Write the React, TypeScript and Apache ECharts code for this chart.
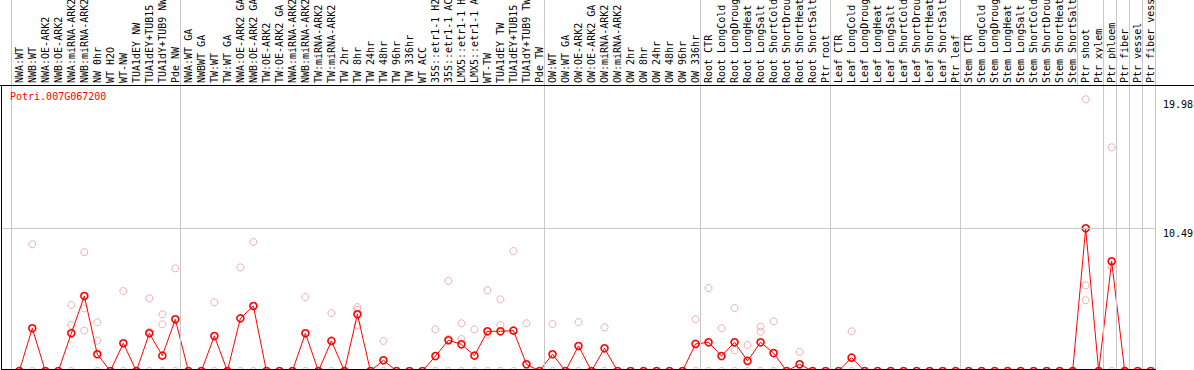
import React, { useEffect, useRef } from 'react';
import * as echarts from 'echarts';

const geneId = 'Potri.007G067200';

const categories = [
  'NWA:WT', 'NWB:WT', 'NWA:OE-ARK2', 'NWB:OE-ARK2', 'NWA:miRNA-ARK2', 'NWB:miRNA-ARK2',
  'NW 0hr', 'WT H2O', 'WT-NW', 'TUA1dEY NW', 'TUA1dEY+TUB15 NW', 'TUA1dY+TUB9 NW', 'Pde NW',
  'NWA:WT GA', 'NWBWT GA', 'TW:WT', 'TW:WT GA', 'NWA:OE-ARK2 GA', 'NWB:OE-ARK2 GA',
  'TW:OE-ARK2', 'TW:OE-ARK2 GA', 'NWA:miRNA-ARK2', 'NWB:miRNA-ARK2', 'TW:miRNA-ARK2', 'TW:miRNA-ARK2',
  'TW 2hr', 'TW 8hr', 'TW 24hr', 'TW 48hr', 'TW 96hr', 'TW 336hr', 'WT ACC',
  '35S::etr1-1 H2O', '35S::etr1-1 ACC', 'LMX5::etr1-1 H2O', 'LMX5::etr1-1 ACC',
  'WT-TW', 'TUA1dEY TW', 'TUA1dEY+TUB15 TW', 'TUA1dY+TUB9 TW', 'Pde TW',
  'OW:WT', 'OW:WT GA', 'OW:OE-ARK2', 'OW:OE-ARK2 GA', 'OW:miRNA-ARK2', 'OW:miRNA-ARK2',
  'OW 2hr', 'OW 8hr', 'OW 24hr', 'OW 48hr', 'OW 96hr', 'OW 336hr',
  'Root CTR', 'Root LongCold', 'Root LongDrought', 'Root LongHeat', 'Root LongSalt',
  'Root ShortCold', 'Root ShortDrought', 'Root ShortHeat', 'Root ShortSalt', 'Ptr root',
  'Leaf CTR', 'Leaf LongCold', 'Leaf LongDrought', 'Leaf LongHeat', 'Leaf LongSalt',
  'Leaf ShortCold', 'Leaf ShortDrought', 'Leaf ShortHeat', 'Leaf ShortSalt', 'Ptr leaf',
  'Stem CTR', 'Stem LongCold', 'Stem LongDrought', 'Stem LongHeat', 'Stem LongSalt',
  'Stem ShortCold', 'Stem ShortDrought', 'Stem ShortHeat', 'Stem ShortSalt',
  'Ptr shoot', 'Ptr xylem', 'Ptr phloem', 'Ptr fiber', 'Ptr vessel', 'Ptr fiber vessel',
];

const means = [
  0, 3.14, 0, 0, 2.77, 5.51, 1.23, 0, 2.04, 0, 2.77, 1.13, 3.8,
  0, 0, 2.57, 0, 3.87, 4.78, 0, 0, 0, 2.77, 0, 2.21,
  0, 4.17, 0, 0.79, 0, 0, 0, 1.1, 2.26, 1.96, 1.13, 2.92, 2.92, 2.97, 0.49, 0,
  1.23, 0, 1.84, 0, 1.67, 0, 0, 0, 0, 0, 0, 1.99,
  2.11, 1.1, 2.11, 0.74, 2.11, 1.32, 0, 0.49, 0, 0,
  0, 0.98, 0, 0, 0, 0, 0, 0, 0, 0,
  0, 0, 0, 0, 0, 0, 0, 0, 0,
  10.49, 0, 8.07, 0, 0, 0,
];

const replicates = [
  [], [9.32, 0], [], [], [4.85, 3.38, 0], [8.73, 4.61, 2.97], [3.58, 2.23, 0], [], [5.88, 0], [],
  [5.34, 2.89, 0], [4.17, 3.43, 0], [7.55, 0],
  [], [], [5.05, 0], [], [7.62, 0], [9.49, 0], [], [], [], [5.44, 0], [], [4.26, 0],
  [], [4.7, 4.5, 3.38], [], [2.21, 0], [], [], [], [3.06, 0], [6.62, 2.35, 0], [3.51, 2.35, 0],
  [3.06, 0], [5.93, 2.65, 0], [5.27, 3.38, 0], [8.82, 0], [3.51, 0], [],
  [3.46, 0], [], [3.6, 0], [], [3.21, 0], [], [], [], [], [], [], [3.8, 0],
  [6.1, 0], [3.14, 0], [4.63, 1.52, 0], [1.91, 0], [3.26, 2.89, 0], [3.65, 0], [], [1.4, 0], [], [],
  [], [2.92, 0], [], [], [], [], [], [], [], [],
  [], [], [], [], [], [], [], [], [],
  [19.98, 6.3, 5.2], [], [16.45, 7.67, 0], [], [], [],
];

const yLabelValues = [10.49, 19.98];
const yZeroLabel = [0];
const gridLineValues = [10.49];
// group boundaries (index of first category in each group); full-height separators
const groupStarts = [0, 13, 41, 53, 63, 73, 84, 85, 86, 87, 88];
// separators drawn only across the label band
const labelOnlyStarts = [82];

export default function App() {
  const ref = useRef<HTMLDivElement>(null);

  useEffect(() => {
    const chart = echarts.init(ref.current as HTMLDivElement, null, { renderer: 'svg' });
    const font = "'DejaVu Sans Mono', 'Liberation Mono', monospace";
    const meanData = means.map((v, i) => [i, v]);
    const repData = replicates.flatMap((arr, i) => arr.map((v) => [i, v]));
    const grayLine = { color: '#c8c8c8', width: 1, type: 'solid' as const };
    const yMin = 0.0735;
    const yMax = 27.28;
    const yAtBand = 21.03; // value at the label band's lower edge

    chart.setOption({
      animation: false,
      backgroundColor: '#ffffff',
      title: {
        text: geneId,
        left: 10,
        top: 91,
        padding: 0,
        textStyle: { fontFamily: font, fontSize: 10, fontWeight: 'normal', color: '#ff0000' },
      },
      grid: { left: 2, right: 38, top: 0, bottom: 0, containLabel: false, outerBoundsMode: 'none' },
      xAxis: {
        type: 'value',
        min: -1.3303,
        max: 87.408,
        position: 'top',
        offset: -85,
        axisLine: { show: false },
        axisTick: { show: false },
        splitLine: { show: false },
        axisLabel: {
          customValues: categories.map((_, i) => i),
          formatter: (v: number) => categories[Math.round(v)] ?? '',
          rotate: -90,
          align: 'left',
          verticalAlign: 'middle',
          margin: 2,
          fontFamily: font,
          fontSize: 10,
          color: '#000000',
          hideOverlap: false,
        },
      },
      yAxis: [
        {
          type: 'value',
          position: 'right',
          min: yMin,
          max: yMax,
          axisLine: { show: false },
          axisTick: { show: false },
          splitLine: { show: false },
          axisLabel: {
            customValues: yLabelValues,
            formatter: (v: number) => v.toFixed(2),
            margin: 7,
            verticalAlign: 'top',
            fontFamily: font,
            fontSize: 10,
            color: '#000000',
          },
        },
        {
          type: 'value',
          position: 'right',
          min: yMin,
          max: yMax,
          axisLine: { show: false },
          axisTick: { show: false },
          splitLine: { show: false },
          axisLabel: {
            customValues: yZeroLabel,
            formatter: (v: number) => String(v),
            margin: 7,
            verticalAlign: 'bottom',
            padding: [0, 0, 4, 0],
            fontFamily: font,
            fontSize: 10,
            color: '#000000',
          },
        },
      ],
      series: [
        {
          type: 'line',
          data: [],
          z: 1,
          silent: true,
          markLine: {
            silent: true,
            symbol: ['none', 'none'],
            label: { show: false },
            lineStyle: grayLine,
            emphasis: { disabled: true },
            data: [
              ...gridLineValues.map((v) => ({ yAxis: v })),
              ...groupStarts.map((b) => ({ xAxis: b - 0.65 })),
              ...labelOnlyStarts.map((b) => [
                { coord: [b - 0.65, yMax] },
                { coord: [b - 0.65, yAtBand] },
              ]),
            ],
          },
        },
        {
          type: 'scatter',
          data: repData,
          z: 2,
          clip: false,
          symbol: 'circle',
          symbolSize: 7,
          itemStyle: { color: 'rgba(0,0,0,0)', borderColor: '#e89a9a', borderWidth: 1 },
        },
        {
          type: 'line',
          data: meanData,
          z: 3,
          clip: false,
          symbol: 'circle',
          symbolSize: 7,
          showAllSymbol: true,
          lineStyle: { color: '#ff0000', width: 1 },
          itemStyle: { color: 'rgba(0,0,0,0)', borderColor: '#ff0000', borderWidth: 1.6 },
        },
      ],
      graphic: [
        { type: 'line', z: 10, shape: { x1: 0, y1: 85.5, x2: 1194, y2: 85.5 }, style: { stroke: '#000', lineWidth: 1 } },
        { type: 'line', z: 10, shape: { x1: 1.5, y1: 85, x2: 1.5, y2: 370 }, style: { stroke: '#000', lineWidth: 1 } },
        { type: 'line', z: 10, shape: { x1: 1, y1: 369.5, x2: 1156, y2: 369.5 }, style: { stroke: '#000', lineWidth: 1 } },
      ],
    });

    return () => chart.dispose();
  }, []);

  return (
    <div
      ref={ref}
      style={{ position: 'absolute', left: 0, top: 0, width: 1194, height: 370 }}
    />
  );
}
